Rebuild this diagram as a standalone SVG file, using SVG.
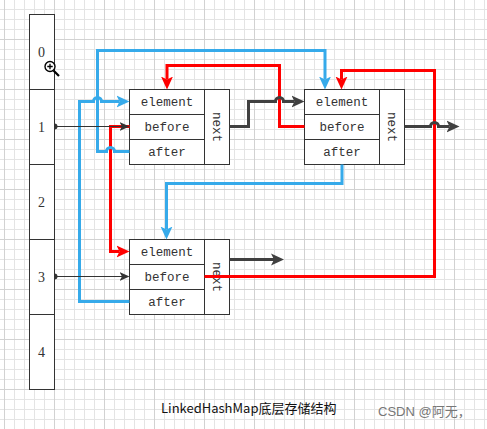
<svg xmlns="http://www.w3.org/2000/svg" width="487" height="429" viewBox="0 0 487 429">
<style>
.box{fill:#fff;stroke:#333;stroke-width:1}
.t{font-family:"Liberation Mono",monospace;font-size:12.5px;fill:#333;text-anchor:middle}
.n{font-family:"Liberation Serif",serif;font-size:14px;fill:#333;text-anchor:middle}
.blue{fill:none;stroke:#36aaea;stroke-width:3}
.red{fill:none;stroke:#ff0000;stroke-width:3}
.dark{fill:none;stroke:#404040;stroke-width:3}
.thin{fill:none;stroke:#333;stroke-width:1}
</style>
<defs>
<pattern id="g1" x="4" y="9" width="10" height="10" patternUnits="userSpaceOnUse"><path d="M0.5,0V10M0,0.5H10" stroke="#e4e4e4" stroke-width="1" fill="none"/></pattern>
<pattern id="g2" x="4" y="39" width="50" height="50" patternUnits="userSpaceOnUse"><path d="M0.5,0V50M0,0.5H50" stroke="#d2d2d2" stroke-width="1" fill="none"/></pattern>
<marker id="mb" markerWidth="14" markerHeight="14" refX="3" refY="6.5" orient="auto" markerUnits="userSpaceOnUse"><path d="M0,0.5L13,6.5L0,12.5L3,6.5Z" fill="#36aaea"/></marker>
<marker id="mr" markerWidth="14" markerHeight="14" refX="3" refY="6.5" orient="auto" markerUnits="userSpaceOnUse"><path d="M0,0.5L13,6.5L0,12.5L3,6.5Z" fill="#ff0000"/></marker>
<marker id="md" markerWidth="14" markerHeight="14" refX="3" refY="6.5" orient="auto" markerUnits="userSpaceOnUse"><path d="M0,0.5L13,6.5L0,12.5L3,6.5Z" fill="#404040"/></marker>
<marker id="mt" markerWidth="11" markerHeight="10" refX="2.5" refY="4.5" orient="auto" markerUnits="userSpaceOnUse"><path d="M0,0L10,4.5L0,9L2.5,4.5Z" fill="#333"/></marker>
</defs>
<rect width="487" height="429" fill="#fff"/>
<rect width="487" height="429" fill="url(#g1)"/>
<rect width="487" height="429" fill="url(#g2)"/>

<g id="table">
<rect class="box" x="29.5" y="14.5" width="25" height="375"/>
<path class="thin" d="M29.5,89.5H54.5M29.5,164.5H54.5M29.5,239.5H54.5M29.5,314.5H54.5"/>
<text class="n" x="41.5" y="56.5">0</text>
<text class="n" x="41.5" y="131.5">1</text>
<text class="n" x="41.5" y="206.5">2</text>
<text class="n" x="41.5" y="281.5">3</text>
<text class="n" x="41.5" y="356.5">4</text>
</g>

<g id="node1">
<rect class="box" x="129.5" y="89.5" width="100" height="75"/>
<path class="thin" d="M204.5,89.5V164.5M129.5,114.5H204.5M129.5,139.5H204.5"/>
<text class="t" x="167" y="106">element</text>
<text class="t" x="167" y="131">before</text>
<text class="t" x="167" y="156">after</text>
<text class="t" transform="translate(217,127) rotate(90)" x="0" y="4">next</text>
</g>

<g id="node2">
<rect class="box" x="304.5" y="89.5" width="100" height="75"/>
<path class="thin" d="M379.5,89.5V164.5M304.5,114.5H379.5M304.5,139.5H379.5"/>
<text class="t" x="342" y="106">element</text>
<text class="t" x="342" y="131">before</text>
<text class="t" x="342" y="156">after</text>
<text class="t" transform="translate(392,127) rotate(90)" x="0" y="4">next</text>
</g>

<g id="node3">
<rect class="box" x="129.5" y="239.5" width="100" height="75"/>
<path class="thin" d="M204.5,239.5V314.5M129.5,264.5H204.5M129.5,289.5H204.5"/>
<text class="t" x="167" y="256">element</text>
<text class="t" x="167" y="281">before</text>
<text class="t" x="167" y="306">after</text>
<text class="t" transform="translate(217,277) rotate(90)" x="0" y="4">next</text>
</g>

<g id="connectors">
<path class="red" d="M304.5,126.5H279.5V65.5H167V79.5" marker-end="url(#mr)"/>
<path class="red" d="M204.5,276.5H434.5V70.5H341.5V79.5" marker-end="url(#mr)"/>
<path class="red" d="M129.5,126.5H110.5V251.5H119.5" marker-end="url(#mr)"/>
<path class="blue" d="M129.5,151.5H114.5A4,4 0 0 0 106.5,151.5H97.5V50.5H325V79.5" marker-end="url(#mb)"/>
<path class="blue" d="M129.5,301.5H79.5V101.5H93.5A4,4 0 0 1 101.5,101.5H119.5" marker-end="url(#mb)"/>
<path class="blue" d="M342,164.5V183.5H166.5V229.5" marker-end="url(#mb)"/>
<path class="dark" d="M229.5,126.5H248.5V101.5H275.5A4,4 0 0 1 283.5,101.5H294.5" marker-end="url(#md)"/>
<path class="dark" d="M404.5,126.5H430.5A4,4 0 0 1 438.5,126.5H449.5" marker-end="url(#md)"/>
<path class="dark" d="M229.5,259.5H274" marker-end="url(#md)"/>
<path class="thin" d="M54.5,126.5H122" marker-end="url(#mt)"/>
<path class="thin" d="M54.5,276.5H122" marker-end="url(#mt)"/>
<path d="M54.5,123.5A3,3 0 0 1 54.5,129.5Z" fill="#333"/>
<path d="M54.5,273.5A3,3 0 0 1 54.5,279.5Z" fill="#333"/>
</g>

<g id="cursor">
<line x1="53.5" y1="70.5" x2="59" y2="76" stroke="#000" stroke-width="2.2"/>
<circle cx="50" cy="66.5" r="5" fill="#fff" stroke="#000" stroke-width="1.4"/>
<path d="M47.3,66.5H52.7M50,63.8V69.2" stroke="#000" stroke-width="1.3"/>
</g>

<text x="161" y="413" font-family="'Noto Sans CJK SC','Noto Sans',sans-serif" font-size="13" fill="#111">LinkedHashMap底层存储结构</text>
<text x="378" y="416" font-family="'Liberation Sans','Noto Sans CJK SC',sans-serif" font-size="13" fill="#777">CSDN @阿无，</text>
</svg>
